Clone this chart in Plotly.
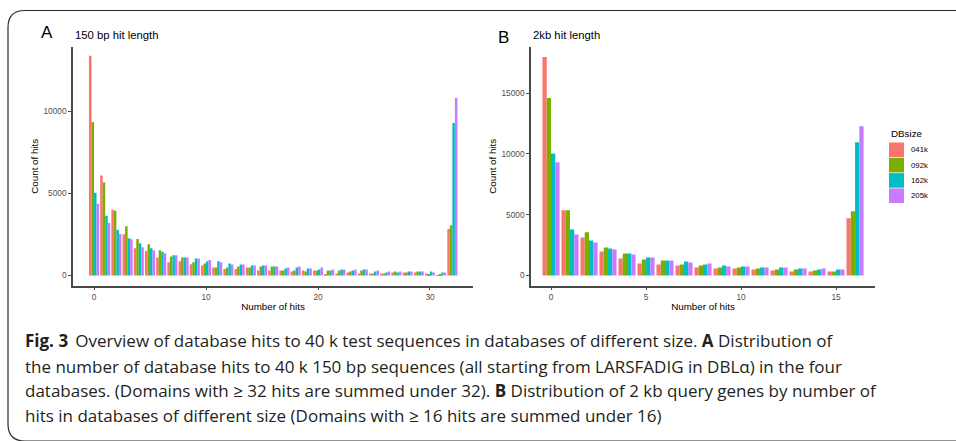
import plotly.graph_objects as go

W, H = 956, 441

# ---------------- data ----------------
series_names = ["041k", "092k", "162k", "205k"]
series_colors = ["#F8766D", "#7CAE00", "#00BFC4", "#C77CFF"]

a_hits = list(range(33))
a_041k = [13370, 6080, 4000, 2510, 1650, 1490, 1100, 800, 860, 690, 610, 490, 390, 390, 490, 305, 305,
          305, 245, 305, 305, 61, 122, 183, 122, 122, 122, 183, 183, 183, 122, 20, 2820]
a_092k = [9330, 5650, 3940, 3000, 2225, 1900, 1530, 1160, 1100, 800, 735, 490, 490, 550, 490, 550, 550,
          305, 305, 245, 305, 305, 305, 245, 305, 122, 122, 245, 183, 245, 61, 61, 3060]
a_162k = [5040, 3630, 2780, 2270, 1960, 1650, 1450, 1225, 1100, 1040, 860, 860, 735, 673, 612, 612, 550,
          430, 490, 430, 367, 305, 365, 305, 365, 245, 183, 183, 245, 245, 245, 183, 9270]
a_205k = [4370, 3200, 2530, 2200, 1710, 1530, 1350, 1225, 1100, 1040, 940, 800, 673, 673, 612, 612, 550,
          490, 550, 430, 490, 365, 365, 365, 365, 305, 245, 245, 245, 245, 183, 183, 10800]

b_hits = list(range(17))
b_041k = [17970, 5360, 3130, 1980, 1400, 990, 905, 825, 660, 577, 577, 495, 412, 330, 330, 330, 4700]
b_092k = [14590, 5360, 3545, 2310, 1815, 1320, 1235, 905, 825, 660, 660, 577, 495, 495, 412, 330, 5275]
b_162k = [10030, 3790, 2885, 2225, 1815, 1485, 1235, 1155, 905, 825, 742, 660, 660, 577, 495, 495, 10960]
b_205k = [9310, 3380, 2720, 2145, 1730, 1485, 1235, 1070, 990, 742, 742, 660, 660, 577, 577, 495, 12280]

a_xticks = [0, 10, 20, 30]
a_yticks = [0, 5000, 10000]
b_xticks = [0, 5, 10, 15]
b_yticks = [0, 5000, 10000, 15000]

caption_lines = [
    "<b>Fig. 3</b>\u2009 Overview of database hits to 40 k test sequences in databases of different size. <b>A</b> Distribution of",
    "the number of database hits to 40 k 150 bp sequences (all starting from LARSFADIG in DBLα) in the four",
    "databases. (Domains with ≥ 32 hits are summed under 32). <b>B</b> Distribution of 2 kb query genes by number of",
    "hits in databases of different size (Domains with ≥ 16 hits are summed under 16)",
]


def px(x):
    return x / W


def py(y):
    return 1 - y / H


fig = go.Figure()
a_vals = [a_041k, a_092k, a_162k, a_205k]
b_vals = [b_041k, b_092k, b_162k, b_205k]
for name, col, av, bv in zip(series_names, series_colors, a_vals, b_vals):
    fig.add_trace(go.Bar(x=a_hits, y=av, name=name, marker=dict(color=col, line=dict(width=0)),
                         xaxis="x", yaxis="y", showlegend=False, offsetgroup=name))
    fig.add_trace(go.Bar(x=b_hits, y=bv, name=name, marker=dict(color=col, line=dict(width=0)),
                         xaxis="x2", yaxis="y2", showlegend=False, offsetgroup=name))

FONT = "Liberation Sans, Arial, sans-serif"
axis_font = dict(family=FONT, size=8.3, color="#4D4D4D")
title_font = dict(family=FONT, size=9.8, color="#000")
common = dict(showline=True, linecolor="#4a4a4a", linewidth=1.6, showgrid=False, zeroline=False,
              ticks="outside", ticklen=3, tickwidth=1, tickcolor="#4a4a4a", tickfont=axis_font,
              title_font=title_font, tickformat="d")

fig.update_layout(
    width=W, height=H, autosize=False,
    margin=dict(l=0, r=0, t=0, b=0),
    paper_bgcolor="white", plot_bgcolor="white",
    barmode="group", bargap=0.1, bargroupgap=0,
    font=dict(family=FONT),
    xaxis=dict(domain=[px(73), px(473)], anchor="y", range=[-1.875, 33.84], tickvals=a_xticks,
               title=dict(text="Number of hits", standoff=2), **common),
    yaxis=dict(domain=[py(285.5), py(47)], anchor="x", range=[-610, 13900], tickvals=a_yticks,
               title=dict(text="Count of hits", standoff=3), **common),
    xaxis2=dict(domain=[px(531), px(875)], anchor="y2", range=[-1.053, 17.05], tickvals=b_xticks,
                title=dict(text="Number of hits", standoff=2), **common),
    yaxis2=dict(domain=[py(285.5), py(47)], anchor="x2", range=[-824, 18790], tickvals=b_yticks,
                title=dict(text="Count of hits", standoff=3), **common),
)

ann = []
ann.append(dict(text="A", x=px(39), y=py(33), xanchor="left", yanchor="middle",
                font=dict(family=FONT, size=17, color="#000")))
ann.append(dict(text="B", x=px(496), y=py(37.7), xanchor="left", yanchor="middle",
                font=dict(family=FONT, size=17, color="#000")))
ann.append(dict(text="150 bp hit length", x=px(72.5), y=py(35), xanchor="left", yanchor="middle",
                font=dict(family=FONT, size=11.3, color="#000")))
ann.append(dict(text="2kb hit length", x=px(530.5), y=py(35), xanchor="left", yanchor="middle",
                font=dict(family=FONT, size=11.3, color="#000")))

# legend (drawn manually)
ann.append(dict(text="DBsize", x=px(888.5), y=py(133.5), xanchor="left", yanchor="middle",
                font=dict(family=FONT, size=9.8, color="#000")))
shapes = []
key_top = 142.5
for i, (name, col) in enumerate(zip(series_names, series_colors)):
    y0 = key_top + i * 15.3
    shapes.append(dict(type="rect", xref="paper", yref="paper", x0=px(889), x1=px(904),
                       y0=py(y0 + 14.6), y1=py(y0), fillcolor=col, line=dict(width=0)))
    ann.append(dict(text=name, x=px(908.5), y=py(y0 + 7.5), xanchor="left", yanchor="middle",
                    font=dict(family=FONT, size=7.8, color="#000")))

# caption
cap_y = [340.7, 366, 390.7, 415]
for line, yy in zip(caption_lines, cap_y):
    ann.append(dict(text=line, x=px(23), y=py(yy), xanchor="left", yanchor="middle", align="left",
                    font=dict(family="Open Sans, Noto Sans, sans-serif", size=17.0, color="#231F20")))

for a in ann:
    a.update(xref="paper", yref="paper", showarrow=False)

# rounded frame
r = 17
frame = (f"M {px(W + 5)},{py(10.5)} L {px(8 + r)},{py(10.5)} Q {px(8)},{py(10.5)} {px(8)},{py(10.5 + r)} "
         f"L {px(8)},{py(441 - r)} Q {px(8)},{py(441)} {px(8 + r)},{py(441)} L {px(W + 5)},{py(441)}")
shapes.append(dict(type="path", xref="paper", yref="paper", path=frame,
                   line=dict(color="#2b2b2b", width=1.2)))

fig.update_layout(annotations=ann, shapes=shapes)
fig.write_html("out.html", config={"displayModeBar": False},
               post_script="document.body.style.margin='0';document.body.style.overflow='hidden';")
